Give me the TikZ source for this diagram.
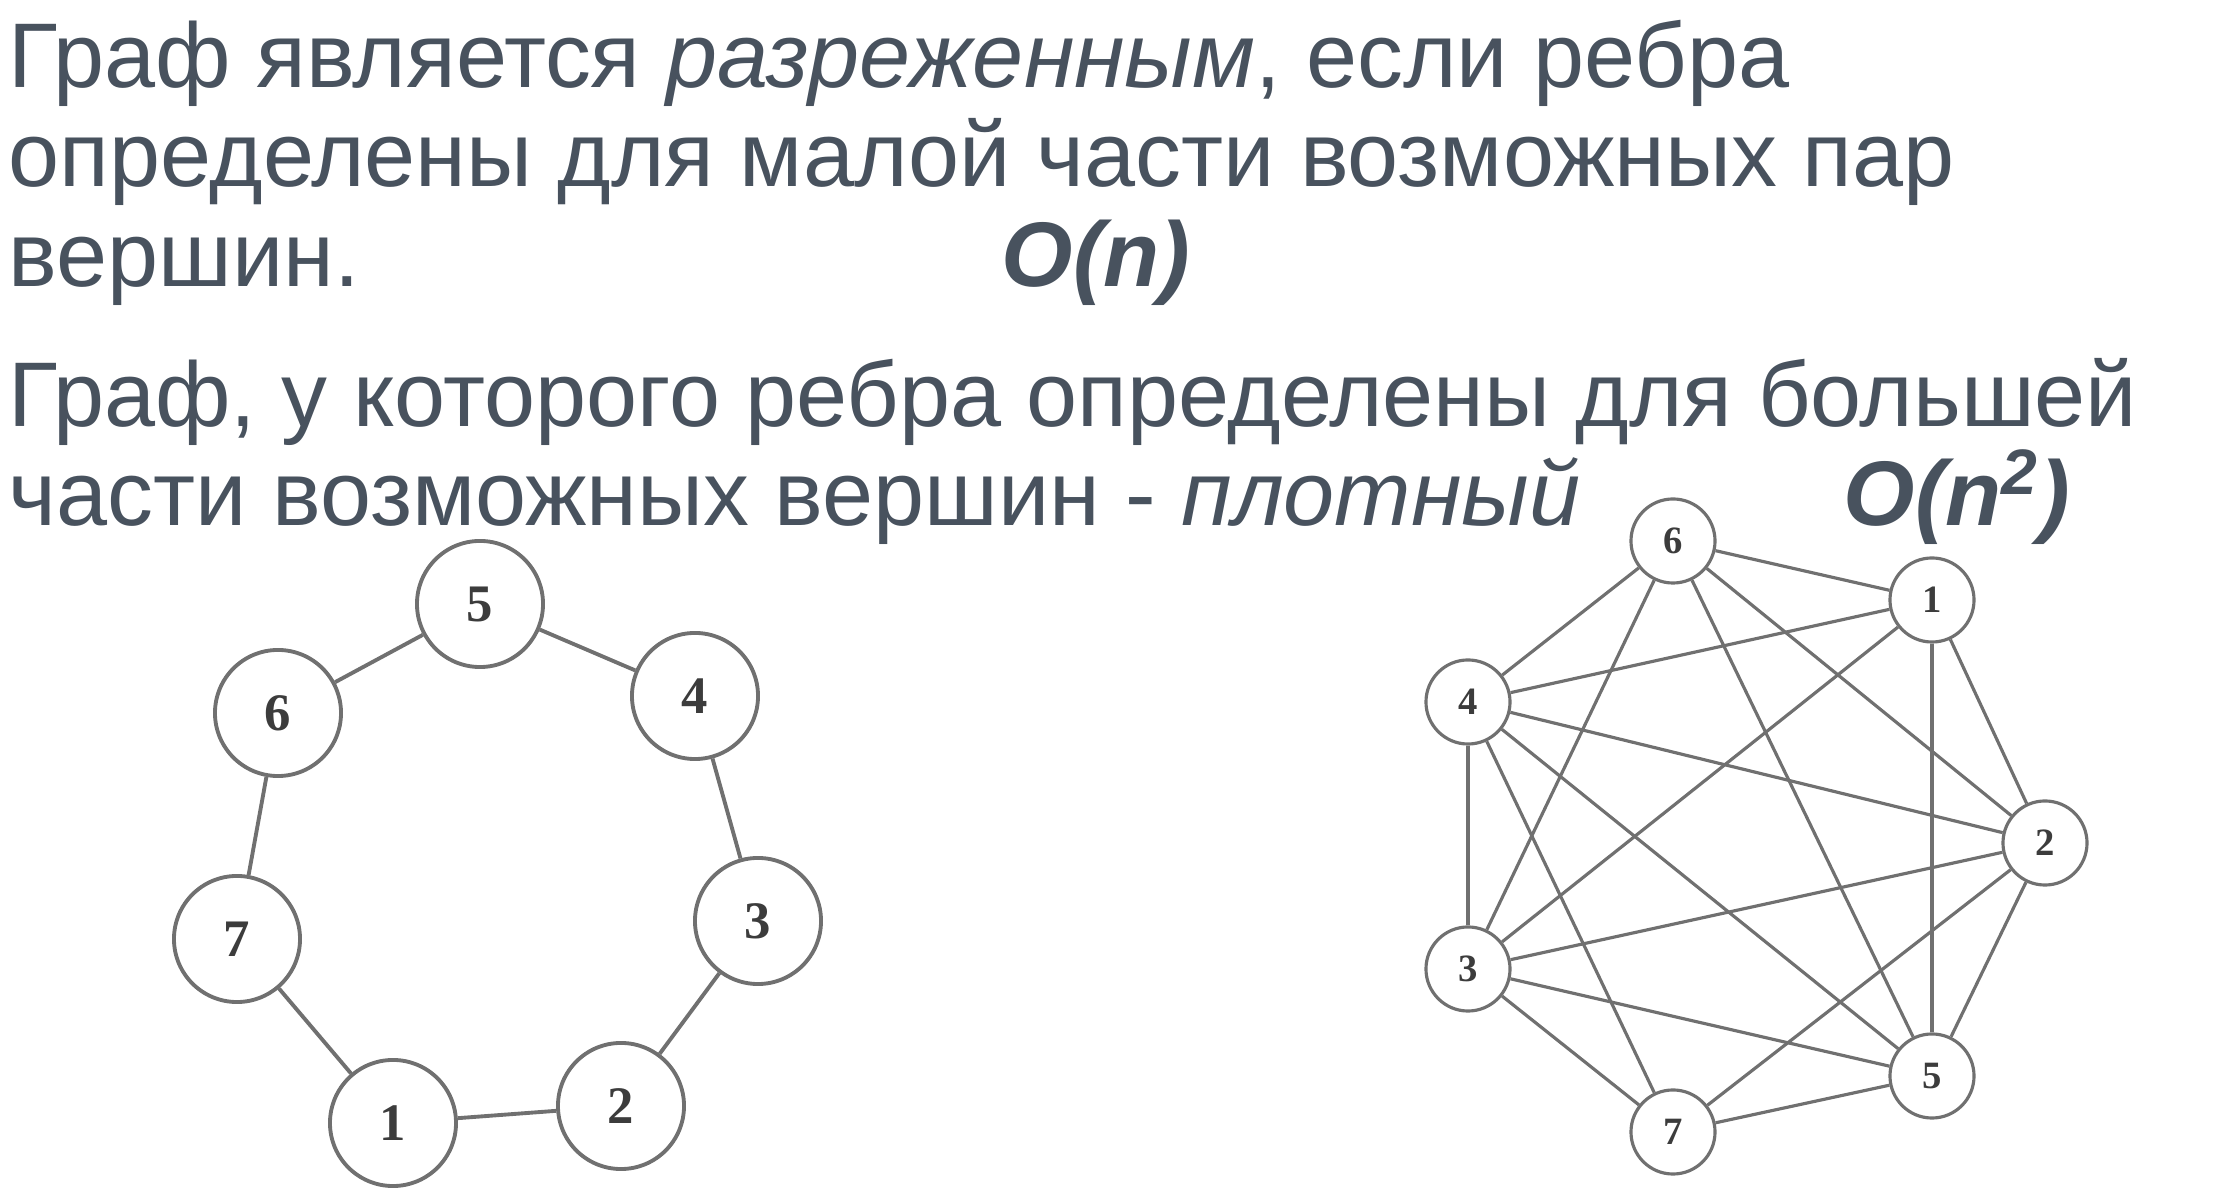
\documentclass[tikz,border=0pt]{standalone}
\usepackage{fontspec}
\setmainfont{Liberation Sans}
\newfontfamily\digitfont{Liberation Serif}
\definecolor{slidetext}{RGB}{72,82,94}
\definecolor{graphline}{RGB}{112,112,112}
\definecolor{digitgray}{RGB}{60,60,60}

\begin{document}
\begin{tikzpicture}[
  x=0.01cm, y=-0.01cm,
  line/.style={anchor=base west, inner sep=0pt, text=slidetext, font=\fontsize{26.1}{28}\selectfont},
  bigo/.style={line, font=\fontsize{26.1}{28}\selectfont\bfseries\itshape},
  vsparse/.style={circle, draw=graphline, line width=1.1pt, minimum size=1.26cm, inner sep=0pt, text=digitgray, font=\digitfont\bfseries\fontsize{15}{15}\selectfont},
  vdense/.style={circle, draw=graphline, line width=0.9pt, minimum size=0.84cm, inner sep=0pt, text=digitgray, font=\digitfont\bfseries\fontsize{11}{11}\selectfont},
  sedge/.style={draw=graphline, line width=1.1pt},
  dedge/.style={draw=graphline, line width=0.9pt}
]
\useasboundingbox (0,0) rectangle (2214,1204);

% Text
\node[line] (l1) at (8,88) {Граф является \textit{разреженным}, если ребра};
\node[line] (l2) at (8,187) {определены для малой части возможных пар};
\node[line] (l3) at (8,287) {вершин.};
\node[bigo] (on) at (1001,287) {O(n)};
\node[line] (l4) at (8,427) {Граф, у которого ребра определены для большей};
\node[line] (l5) at (8,526) {части возможных вершин - \textit{плотный}};
\node[bigo] (onn) at (1843,526) {O(n\textsuperscript{2})};

% Sparse graph
\node[vsparse] (s5) at (480,604) {5};
\node[vsparse] (s4) at (695,696) {4};
\node[vsparse] (s6) at (278,713) {6};
\node[vsparse] (s3) at (758,921) {3};
\node[vsparse] (s7) at (237,939) {7};
\node[vsparse] (s1) at (393,1123) {1};
\node[vsparse] (s2) at (621,1106) {2};

\draw[sedge] (s5) -- (s4);
\draw[sedge] (s4) -- (s3);
\draw[sedge] (s3) -- (s2);
\draw[sedge] (s2) -- (s1);
\draw[sedge] (s1) -- (s7);
\draw[sedge] (s7) -- (s6);
\draw[sedge] (s6) -- (s5);

% Dense graph
\node[vdense] (d6) at (1673,541) {6};
\node[vdense] (d1) at (1932,600) {1};
\node[vdense] (d4) at (1468,702) {4};
\node[vdense] (d2) at (2045,843) {2};
\node[vdense] (d3) at (1468,969) {3};
\node[vdense] (d5) at (1932,1076) {5};
\node[vdense] (d7) at (1673,1132) {7};

\draw[dedge] (d6) -- (d1);
\draw[dedge] (d6) -- (d4);
\draw[dedge] (d6) -- (d3);
\draw[dedge] (d6) -- (d5);
\draw[dedge] (d6) -- (d2);
\draw[dedge] (d1) -- (d4);
\draw[dedge] (d1) -- (d3);
\draw[dedge] (d1) -- (d5);
\draw[dedge] (d1) -- (d2);
\draw[dedge] (d4) -- (d2);
\draw[dedge] (d4) -- (d3);
\draw[dedge] (d4) -- (d5);
\draw[dedge] (d4) -- (d7);
\draw[dedge] (d3) -- (d2);
\draw[dedge] (d3) -- (d5);
\draw[dedge] (d3) -- (d7);
\draw[dedge] (d2) -- (d5);
\draw[dedge] (d2) -- (d7);
\draw[dedge] (d7) -- (d5);
\end{tikzpicture}
\end{document}
